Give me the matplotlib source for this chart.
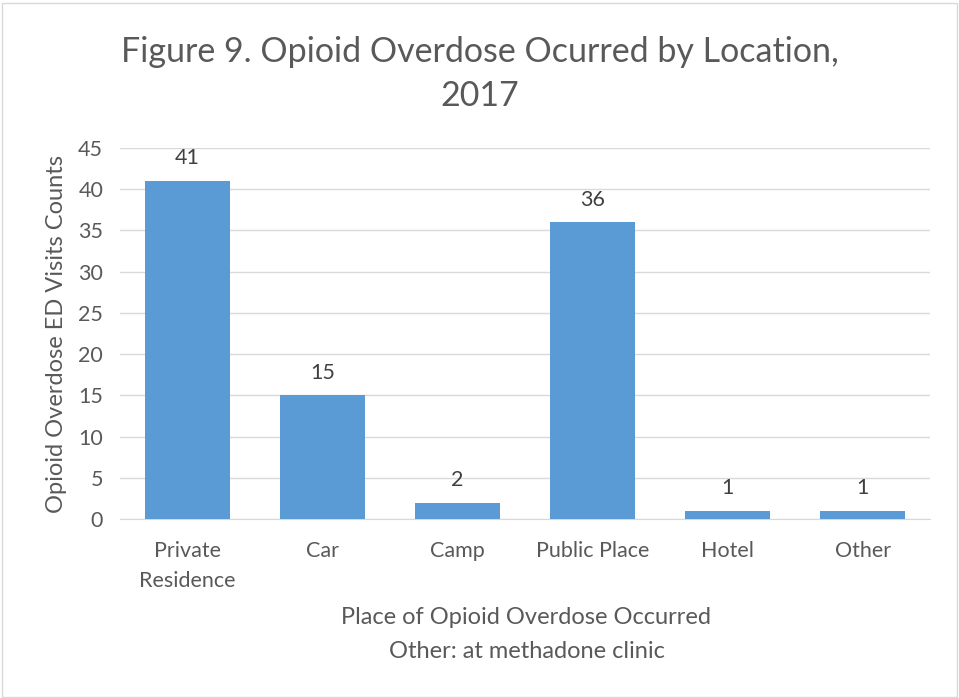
import matplotlib
matplotlib.use("Agg")
import matplotlib.pyplot as plt
from matplotlib.patches import Rectangle

categories = ["Private\nResidence", "Car", "Camp", "Public Place", "Hotel", "Other"]
counts = [41, 15, 2, 36, 1, 1]
y_ticks = [0, 5, 10, 15, 20, 25, 30, 35, 40, 45]

plt.rcParams['font.family'] = ['Lato', 'DejaVu Sans']
text_color = "#595959"
bar_color = "#5B9BD5"

fig = plt.figure(figsize=(9.59, 6.98), dpi=100)
ax = fig.add_axes([0.125, 0.2564, 0.845, 0.5316])

x = range(len(categories))
bars = ax.bar(x, counts, width=0.63, color=bar_color, zorder=3)
for b, v in zip(bars, counts):
    ax.annotate(str(v), (b.get_x() + b.get_width() / 2, v), xytext=(0, 9),
                textcoords="offset points", ha="center", va="bottom",
                fontsize=15.5, color="#404040")

ax.set_xlim(-0.5, len(categories) - 0.5)
ax.set_ylim(0, 45)
ax.set_yticks(y_ticks)
ax.set_xticks(list(x))
ax.set_xticklabels(categories, fontsize=15.5, color=text_color, linespacing=1.6)
ax.tick_params(axis="y", labelsize=15.5, labelcolor=text_color, length=0, pad=12)
ax.tick_params(axis="x", length=0, pad=16)
ax.yaxis.grid(True, color="#D9D9D9", linewidth=1, zorder=0)
for s in ["top", "right", "left"]:
    ax.spines[s].set_visible(False)
ax.spines["bottom"].set_color("#D9D9D9")

ax.set_ylabel("Opioid Overdose ED Visits Counts", fontsize=17, color=text_color, labelpad=8)
fig.text(0.5, 0.925, "Figure 9. Opioid Overdose Ocurred by Location,", ha="center",
         va="center", fontsize=24.5, color=text_color)
fig.text(0.5, 0.863, "2017", ha="center", va="center", fontsize=24.5, color=text_color)
fig.text(0.549, 0.115, "Place of Opioid Overdose Occurred", ha="center", va="center",
         fontsize=17, color=text_color)
fig.text(0.549, 0.067, "Other: at methadone clinic", ha="center", va="center",
         fontsize=17, color=text_color)

fig.patches.append(Rectangle((0.002, 0.002), 0.996, 0.993, transform=fig.transFigure,
                             fill=False, edgecolor="#D9D9D9", linewidth=1))

fig.savefig("out.png", dpi=100)
